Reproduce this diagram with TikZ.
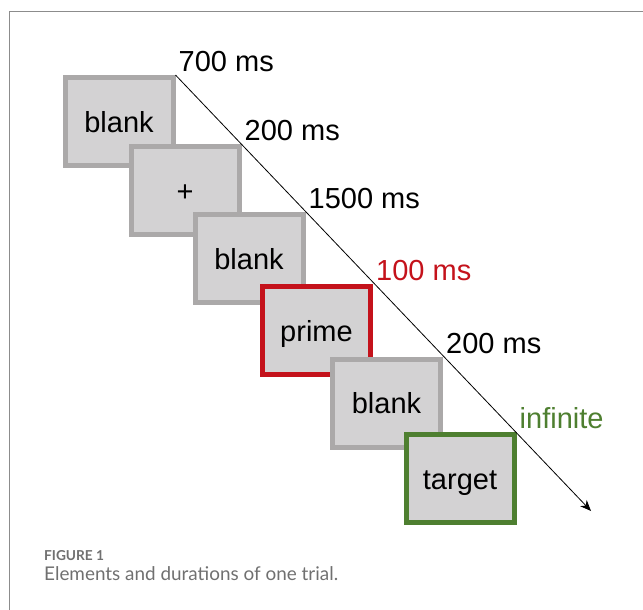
\documentclass[tikz,border=0pt]{standalone}
\usepackage{fontspec}
\setmainfont{Liberation Sans}
\newfontfamily\capfont{Lato}
\usetikzlibrary{arrows.meta}

\definecolor{screenfill}{HTML}{D3D2D3}
\definecolor{screenedge}{HTML}{ABA9A9}
\definecolor{primered}{HTML}{C4121B}
\definecolor{targetgreen}{HTML}{4E7F30}
\definecolor{framegray}{HTML}{8C8C8C}
\definecolor{capgray}{HTML}{707070}

\tikzset{
    screen/.style={rectangle, draw=screenedge, fill=screenfill, line width=5pt,
        minimum width=108pt, minimum height=88pt, inner sep=0pt,
        text height=21pt, text depth=0pt,
        font=\fontsize{29}{32}\selectfont},
    dur/.style={anchor=south west, inner sep=0pt, xshift=3pt, yshift=3pt,
        font=\fontsize{29}{32}\selectfont}
}

\begin{document}
\begin{tikzpicture}[x=1pt,y=-1pt]
    \useasboundingbox (0,0) rectangle (643,610);

    % frame
    \draw[framegray, line width=1pt] (643,12) -- (9,12) -- (9,610);

    % screens, later ones on top
    \node[screen] (blank1) at (119,121.5) {blank};
    \node[screen] (fix) at (185,190.5) {+};
    \node[screen] (blank2) at (249,258.5) {blank};
    \node[screen, draw=primered] (prime) at (316.5,330.5) {prime};
    \node[screen] (blank3) at (386.5,403) {blank};
    \node[screen, draw=targetgreen] (target) at (460,478.5) {target};

    % time axis
    \coordinate (t_end) at (591,511);
    \draw[-{Stealth[length=11pt,width=9pt]}, line width=0.8pt] (blank1.north east) -- (t_end);

    \node[dur] at (blank1.north east) {700 ms};
    \node[dur] at (fix.north east) {200 ms};
    \node[dur] at (blank2.north east) {1500 ms};
    \node[dur, text=primered] at (prime.north east) {100 ms};
    \node[dur] at (blank3.north east) {200 ms};
    \node[dur, text=targetgreen] at (target.north east) {infinite};

    % caption
    \node[anchor=base west, inner sep=0pt, text=capgray, font=\capfont\bfseries\fontsize{13.7}{16}\selectfont] (fig_no) at (44,560) {FIGURE 1};
    \node[anchor=base west, inner sep=0pt, text=capgray, font=\capfont\fontsize{18.9}{22}\selectfont] (fig_cap) at (44,580) {Elements and durations of one trial.};
\end{tikzpicture}
\end{document}
